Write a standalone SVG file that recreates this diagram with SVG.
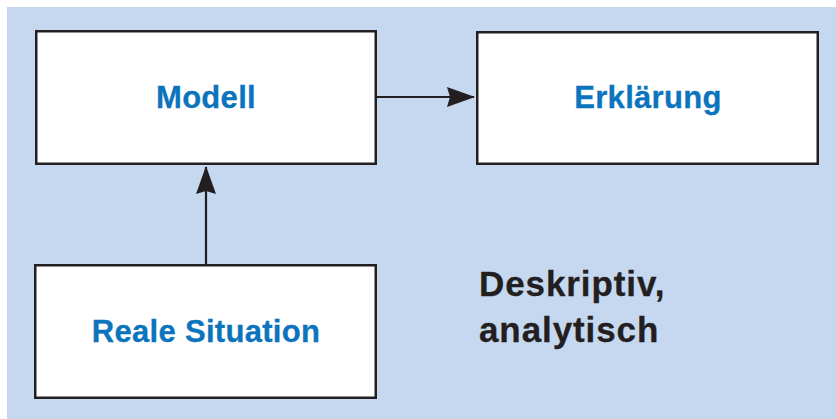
<svg xmlns="http://www.w3.org/2000/svg" width="836" height="419" viewBox="0 0 836 419">
  <style>
    .box { fill: #ffffff; stroke: #231f20; stroke-width: 2.5; }
    .label { font-family: "Liberation Sans", Arial, sans-serif; font-weight: bold; font-size: 31px; fill: #0b74bc; stroke: #0b74bc; stroke-width: 0.3; text-anchor: middle; letter-spacing: 0.3px; }
    .note { font-family: "Liberation Sans", Arial, sans-serif; font-weight: bold; font-size: 35px; fill: #231f20; stroke: #231f20; stroke-width: 0.3; letter-spacing: 0.9px; }
    .edge { stroke: #231f20; stroke-width: 2.2; fill: none; }
  </style>
  <defs>
    <marker id="arrow" viewBox="0 0 28 20" refX="27" refY="10" markerWidth="28" markerHeight="20" markerUnits="userSpaceOnUse" orient="auto">
      <path d="M0,0 L28,10 L0,20 L3,10 Z" fill="#231f20"/>
    </marker>
  </defs>

  <!-- background panel -->
  <rect x="7" y="7" width="829" height="412" fill="#c5d8ef"/>

  <g id="modell">
    <rect class="box" x="36.25" y="31.25" width="339.5" height="132.5"/>
    <text class="label" x="206" y="108">Modell</text>
  </g>

  <g id="erklaerung">
    <rect class="box" x="477.25" y="32.25" width="340.5" height="131.5"/>
    <text class="label" x="648" y="108">Erklärung</text>
  </g>

  <g id="reale-situation">
    <rect class="box" x="35.25" y="265.25" width="340.5" height="132.5"/>
    <text class="label" x="206" y="342">Reale Situation</text>
  </g>

  <g id="beschreibung">
    <text class="note" x="479" y="296">Deskriptiv,</text>
    <text class="note" x="479" y="342">analytisch</text>
  </g>

  <g id="connectors">
    <line class="edge" x1="377" y1="97" x2="474" y2="97" marker-end="url(#arrow)"/>
    <line class="edge" x1="206" y1="264" x2="206" y2="167" marker-end="url(#arrow)"/>
  </g>
</svg>
